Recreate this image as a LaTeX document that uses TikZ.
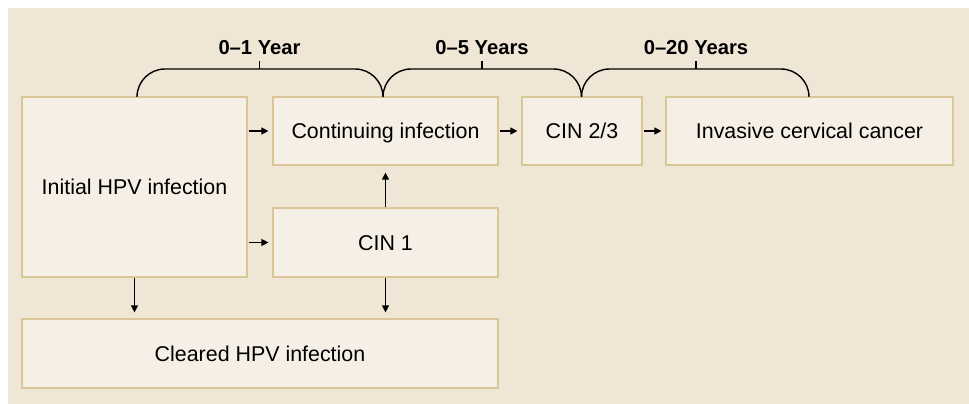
\documentclass[tikz,border=0pt]{standalone}
\usepackage{fontspec}
\setmainfont{Liberation Sans}
\usetikzlibrary{arrows.meta}
\definecolor{bg}{RGB}{239,230,214}
\definecolor{boxfill}{RGB}{245,239,229}
\definecolor{boxline}{RGB}{219,198,152}
\begin{document}
\begin{tikzpicture}[x=1pt,y=-1pt,
  box/.style={draw=boxline, fill=boxfill, line width=1.2pt, inner sep=0pt,
    text height=15pt, text depth=0pt, font=\fontsize{21.4}{24}\selectfont},
  arr/.style={line width=1.3pt, -{Triangle[length=7pt,width=7pt]}},
  bracepath/.style={line width=1.4pt, rounded corners=28pt},
  lbl/.style={font=\fontsize{20.2}{24}\selectfont\bfseries, anchor=base, inner sep=0pt}]

\useasboundingbox (0,0) rectangle (969,404);
\fill[bg] (8,8) rectangle (980,415);

\node[box, minimum width=225pt, minimum height=180pt] (init) at (134.5,187) {Initial HPV infection};
\node[box, minimum width=225pt, minimum height=68pt] (cont) at (385.5,131) {Continuing infection};
\node[box, minimum width=225pt, minimum height=69pt] (cin1) at (385.5,242.5) {CIN 1};
\node[box, minimum width=476pt, minimum height=69pt] (clr) at (260,353.5) {Cleared HPV infection};
\node[box, minimum width=120pt, minimum height=68pt] (cin23) at (582,131) {CIN 2/3};
\node[box, minimum width=287pt, minimum height=68pt] (inv) at (809.5,131) {Invasive cervical cancer};

\draw[arr, shorten <=1pt, shorten >=4pt] (init.east |- cont.west) -- (cont.west);
\draw[arr, shorten <=1pt, shorten >=4pt] (init.east |- cin1.west) -- (cin1.west);
\draw[arr, shorten >=7pt] (cin1.north) -- (cont.south);
\draw[arr, shorten >=6pt] (init.south) -- (init.south |- clr.north);
\draw[arr, shorten >=6pt] (cin1.south) -- (cin1.south |- clr.north);
\draw[arr, shorten <=1pt, shorten >=4pt] (cont.east) -- (cin23.west);
\draw[arr, shorten <=1pt, shorten >=4pt] (cin23.east) -- (inv.west);

\coordinate (b0) at (137,97);
\coordinate (b1) at (383,97);
\coordinate (b2) at (581.5,97);
\coordinate (b3) at (809,97);
\draw[bracepath] (b0) -- (137,69) -- (383,69) -- (b1);
\draw[bracepath] (b1) -- (383,69) -- (581.5,69) -- (b2);
\draw[bracepath] (b2) -- (581.5,69) -- (809,69) -- (b3);

\coordinate (t1) at (259.5,69);
\coordinate (t2) at (482,69);
\coordinate (t3) at (696,69);
\draw[line width=1.4pt] (t1) -- ++(0,-8);
\draw[line width=1.4pt] (t2) -- ++(0,-8);
\draw[line width=1.4pt] (t3) -- ++(0,-8);

\node[lbl] (l1) at (259.5,55) {0–1 Year};
\node[lbl] (l2) at (482,55) {0–5 Years};
\node[lbl] (l3) at (696,55) {0–20 Years};
\end{tikzpicture}
\end{document}
